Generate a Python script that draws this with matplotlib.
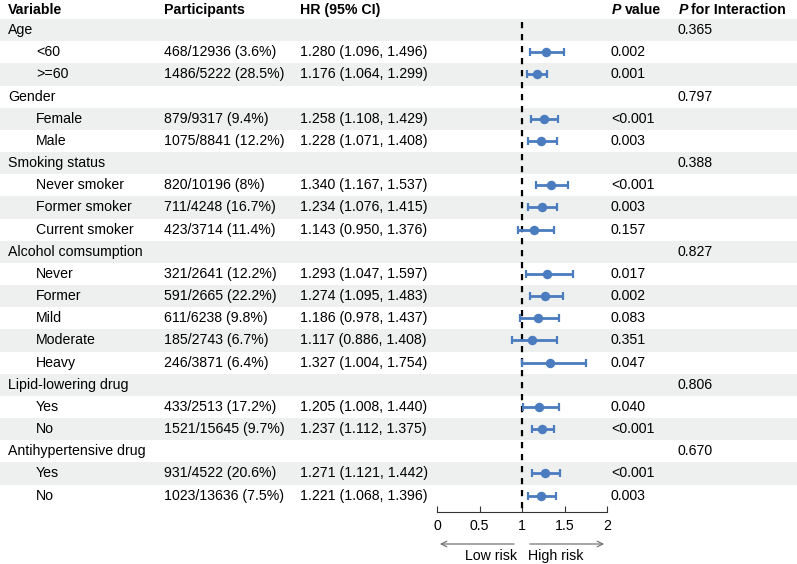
import matplotlib
matplotlib.use("Agg")
import matplotlib.pyplot as plt

plt.rcParams["font.family"] = ["Liberation Sans", "DejaVu Sans"]

# --- data ---
groups = ["Age", "Gender", "Smoking status", "Alcohol comsumption",
          "Lipid-lowering drug", "Antihypertensive drug"]
p_interaction = ["0.365", "0.797", "0.388", "0.827", "0.806", "0.670"]
subgroups = [
    ["<60", ">=60"],
    ["Female", "Male"],
    ["Never smoker", "Former smoker", "Current smoker"],
    ["Never", "Former", "Mild", "Moderate", "Heavy"],
    ["Yes", "No"],
    ["Yes", "No"],
]
participants = [
    ["468/12936 (3.6%)", "1486/5222 (28.5%)"],
    ["879/9317 (9.4%)", "1075/8841 (12.2%)"],
    ["820/10196 (8%)", "711/4248 (16.7%)", "423/3714 (11.4%)"],
    ["321/2641 (12.2%)", "591/2665 (22.2%)", "611/6238 (9.8%)",
     "185/2743 (6.7%)", "246/3871 (6.4%)"],
    ["433/2513 (17.2%)", "1521/15645 (9.7%)"],
    ["931/4522 (20.6%)", "1023/13636 (7.5%)"],
]
hr = [
    [1.280, 1.176],
    [1.258, 1.228],
    [1.340, 1.234, 1.143],
    [1.293, 1.274, 1.186, 1.117, 1.327],
    [1.205, 1.237],
    [1.271, 1.221],
]
hr_low = [
    [1.096, 1.064],
    [1.108, 1.071],
    [1.167, 1.076, 0.950],
    [1.047, 1.095, 0.978, 0.886, 1.004],
    [1.008, 1.112],
    [1.121, 1.068],
]
hr_high = [
    [1.496, 1.299],
    [1.429, 1.408],
    [1.537, 1.415, 1.376],
    [1.597, 1.483, 1.437, 1.408, 1.754],
    [1.440, 1.375],
    [1.442, 1.396],
]
p_values = [
    ["0.002", "0.001"],
    ["<0.001", "0.003"],
    ["<0.001", "0.003", "0.157"],
    ["0.017", "0.002", "0.083", "0.351", "0.047"],
    ["0.040", "<0.001"],
    ["<0.001", "0.003"],
]
x_ticks = [0, 0.5, 1, 1.5, 2]
x_tick_labels = ["0", "0.5", "1", "1.5", "2"]

W, H = 797, 564
ROW_TOP = 19.0
ROW_H = 22.17
AXIS_Y = 512
BLUE = "#4a7cbf"
BAND = "#eef0ef"
FS = 10.2

fig = plt.figure(figsize=(W / 100, H / 100), dpi=100)
ax = fig.add_axes([0, 0, 1, 1])
ax.set_xlim(0, W)
ax.set_ylim(H, 0)
ax.axis("off")

# forest axes: x 0..2 mapped onto pixels 437..607, y in pixel units
fx = fig.add_axes([437 / W, 0, 170 / W, 1])
fx.set_xlim(0, 2)
fx.set_ylim(H, 0)
fx.patch.set_alpha(0)
for s in ["top", "left", "right"]:
    fx.spines[s].set_visible(False)
fx.spines["bottom"].set_position(("data", AXIS_Y))
fx.spines["bottom"].set_color("#333333")
fx.spines["bottom"].set_linewidth(0.8)
fx.set_yticks([])
fx.set_xticks(x_ticks)
fx.set_xticklabels(x_tick_labels, fontsize=FS)
fx.tick_params(axis="x", direction="in", length=4, width=0.8,
               color="#333333", pad=5)

# header
hy = 10
ax.text(8, hy, "Variable", fontsize=FS, fontweight="bold", va="center")
ax.text(164, hy, "Participants", fontsize=FS, fontweight="bold", va="center")
ax.text(300, hy, "HR (95% CI)", fontsize=FS, fontweight="bold", va="center")
ax.text(612, hy, "P", fontsize=FS, fontweight="bold", style="italic", va="center")
ax.text(625, hy, "value", fontsize=FS, fontweight="bold", va="center")
ax.text(679, hy, "P", fontsize=FS, fontweight="bold", style="italic", va="center")
ax.text(691, hy, "for Interaction", fontsize=FS, fontweight="bold", va="center")

row = 0
for g, name in enumerate(groups):
    rows_here = [(name, None)] + [(s, k) for k, s in enumerate(subgroups[g])]
    for label, k in rows_here:
        top = ROW_TOP + row * ROW_H
        yc = top + ROW_H / 2
        if row % 2 == 0:
            ax.axhspan(top, top + ROW_H, color=BAND, lw=0, zorder=0)
        if k is None:
            ax.text(8, yc, label, fontsize=FS, va="center")
            ax.text(678, yc, p_interaction[g], fontsize=FS, va="center")
        else:
            ax.text(36, yc, label, fontsize=FS, va="center")
            ax.text(164, yc, participants[g][k], fontsize=FS, va="center")
            ax.text(300, yc, "%.3f (%.3f, %.3f)" % (hr[g][k], hr_low[g][k], hr_high[g][k]),
                    fontsize=FS, va="center")
            ax.text(611, yc, p_values[g][k], fontsize=FS, va="center")
            fx.errorbar(hr[g][k], yc,
                        xerr=[[hr[g][k] - hr_low[g][k]], [hr_high[g][k] - hr[g][k]]],
                        fmt="o", color=BLUE, ms=5.8, elinewidth=2.0, capsize=2.6,
                        capthick=1.6, clip_on=False, zorder=3)
        row += 1

# reference line at HR = 1
fx.plot([1, 1], [ROW_TOP + 3, AXIS_Y], color="black", lw=1.6,
        linestyle=(0, (2.8, 2.6)), zorder=2, clip_on=False)

# risk arrows
arr_y = 544
fx.annotate("", xy=(0, arr_y), xytext=(0.94, arr_y),
            arrowprops=dict(arrowstyle="->", color="#777777", lw=0.9))
fx.annotate("", xy=(2, arr_y), xytext=(1.06, arr_y),
            arrowprops=dict(arrowstyle="->", color="#777777", lw=0.9))
fx.text(0.94, 556, "Low risk", fontsize=FS, ha="right", va="center")
fx.text(1.07, 556, "High risk", fontsize=FS, ha="left", va="center")

fig.savefig("out.png", dpi=100)
